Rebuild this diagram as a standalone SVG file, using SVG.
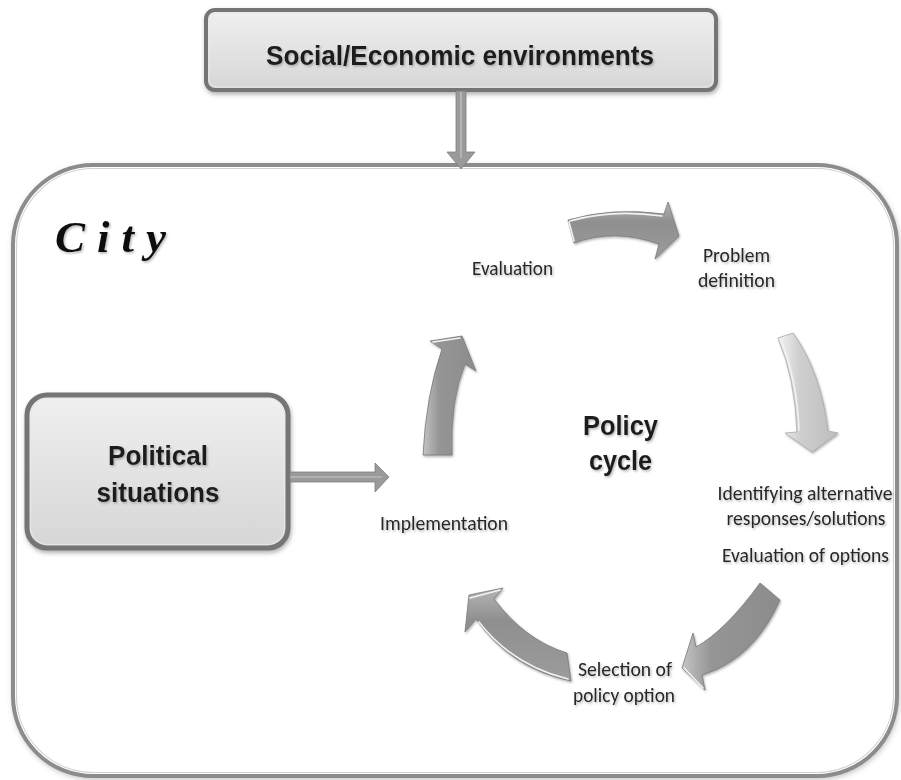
<svg xmlns="http://www.w3.org/2000/svg" width="901" height="780" viewBox="0 0 901 780">
  <defs>
    <linearGradient id="boxFill" x1="0" y1="0" x2="0" y2="1">
      <stop offset="0" stop-color="#f0f0f0"/>
      <stop offset="1" stop-color="#d6d6d6"/>
    </linearGradient>
    <linearGradient id="arrowDark" x1="0" y1="0" x2="0" y2="1">
      <stop offset="0" stop-color="#b4b4b4"/>
      <stop offset="0.35" stop-color="#8f8f8f"/>
      <stop offset="1" stop-color="#9c9c9c"/>
    </linearGradient>
    <linearGradient id="arrowDarkH" x1="0" y1="0" x2="1" y2="0">
      <stop offset="0" stop-color="#c4c4c4"/>
      <stop offset="0.3" stop-color="#959595"/>
      <stop offset="1" stop-color="#8c8c8c"/>
    </linearGradient>
    <linearGradient id="arrowLight" x1="0" y1="0" x2="1" y2="0">
      <stop offset="0" stop-color="#f4f4f4"/>
      <stop offset="0.35" stop-color="#cfcfcf"/>
      <stop offset="1" stop-color="#bdbdbd"/>
    </linearGradient>
    <filter id="boxShadow" x="-10%" y="-10%" width="120%" height="130%">
      <feDropShadow dx="1" dy="2.5" stdDeviation="2" flood-color="#555" flood-opacity="0.45"/>
    </filter>
    <filter id="frameShadow" x="-5%" y="-5%" width="110%" height="110%">
      <feDropShadow dx="1" dy="2" stdDeviation="2.5" flood-color="#666" flood-opacity="0.35"/>
    </filter>
    <filter id="arrowShadow" x="-20%" y="-20%" width="140%" height="140%">
      <feDropShadow dx="1" dy="1.5" stdDeviation="1.2" flood-color="#555" flood-opacity="0.45"/>
    </filter>
    <filter id="textShadow" x="-10%" y="-30%" width="120%" height="160%">
      <feDropShadow dx="1.2" dy="1.5" stdDeviation="0.9" flood-color="#777" flood-opacity="0.55"/>
    </filter>
  </defs>
  <style>
    .frame { fill: #ffffff; stroke: #8c8c8c; stroke-width: 4; }
    .frame-inner { fill: none; stroke: #d2d2d2; stroke-width: 1.2; }
    .box { fill: url(#boxFill); stroke: #747474; }
    .box-inner { fill: none; stroke: #e8e8e8; stroke-width: 1; }
    .title { font-family: "Liberation Sans", Arial, sans-serif; font-weight: bold; fill: #1c1c1c; }
    .label { font-family: Carlito, Lato, "Open Sans", sans-serif; font-size: 19.5px; fill: #262626; }
    .city { font-family: "Liberation Serif", "Times New Roman", serif; font-weight: bold; font-style: italic; font-size: 45px; letter-spacing: 12px; fill: #111; }
    .shaded { filter: url(#textShadow); }
    .conn { fill: #9a9a9a; stroke: #7e7e7e; stroke-width: 0.8; }
    .conn-line { fill: none; stroke: #c6c6c6; stroke-width: 1.2; }
    .cyc { stroke: #7a7a7a; stroke-width: 0.8; filter: url(#arrowShadow); }
    .cyc-light { stroke: #a9a9a9; stroke-width: 0.8; filter: url(#arrowShadow); }
    .hl { fill: none; stroke: #f2f2f2; stroke-width: 1.6; stroke-linecap: round; }
  </style>

  <rect width="901" height="780" fill="#ffffff"/>

  <!-- City frame -->
  <g id="city">
    <rect class="frame" x="13" y="165" width="884" height="611" rx="80" ry="80" filter="url(#frameShadow)"/>
    <rect class="frame-inner" x="16.5" y="168.5" width="877" height="604" rx="77" ry="77"/>
    <text class="city shaded" x="55" y="252">City</text>
  </g>

  <!-- Social/Economic environments -->
  <g id="social-economic">
    <rect class="box" x="206" y="10" width="510" height="80" rx="9" ry="9" stroke-width="4" filter="url(#boxShadow)"/>
    <rect class="box-inner" x="209" y="13" width="504" height="74" rx="7" ry="7"/>
    <text class="title shaded" x="460" y="65" font-size="27" text-anchor="middle" textLength="388" lengthAdjust="spacingAndGlyphs">Social/Economic environments</text>
  </g>

  <!-- Political situations -->
  <g id="political">
    <rect class="box" x="27" y="395" width="261" height="153" rx="20" ry="20" stroke-width="5" filter="url(#boxShadow)"/>
    <rect class="box-inner" x="30.5" y="398.5" width="254" height="146" rx="17" ry="17"/>
    <text class="title shaded" x="158" y="465" font-size="28" text-anchor="middle" textLength="100" lengthAdjust="spacingAndGlyphs">Political</text>
    <text class="title shaded" x="158" y="502" font-size="28" text-anchor="middle" textLength="123" lengthAdjust="spacingAndGlyphs">situations</text>
  </g>

  <!-- Centre title -->
  <g id="policy-cycle">
    <text class="title shaded" x="620.5" y="435" font-size="28" text-anchor="middle" textLength="75" lengthAdjust="spacingAndGlyphs">Policy</text>
    <text class="title shaded" x="620.5" y="470" font-size="28" text-anchor="middle" textLength="63" lengthAdjust="spacingAndGlyphs">cycle</text>
  </g>

  <!-- Stage labels -->
  <g id="evaluation">
    <text class="label shaded" x="512.5" y="275" text-anchor="middle" textLength="81" lengthAdjust="spacingAndGlyphs">Evaluation</text>
  </g>
  <g id="problem-definition">
    <text class="label shaded" x="736.5" y="262" text-anchor="middle" textLength="67" lengthAdjust="spacingAndGlyphs">Problem</text>
    <text class="label shaded" x="736.5" y="287" text-anchor="middle" textLength="77" lengthAdjust="spacingAndGlyphs">definition</text>
  </g>
  <g id="alternatives">
    <text class="label shaded" x="805" y="500" text-anchor="middle" textLength="175" lengthAdjust="spacingAndGlyphs">Identifying alternative</text>
    <text class="label shaded" x="806" y="525" text-anchor="middle" textLength="159" lengthAdjust="spacingAndGlyphs">responses/solutions</text>
    <text class="label shaded" x="805.5" y="562" text-anchor="middle" textLength="167" lengthAdjust="spacingAndGlyphs">Evaluation of options</text>
  </g>
  <g id="selection">
    <text class="label shaded" x="625" y="676" text-anchor="middle" textLength="94" lengthAdjust="spacingAndGlyphs">Selection of</text>
    <text class="label shaded" x="624" y="702" text-anchor="middle" textLength="102" lengthAdjust="spacingAndGlyphs">policy option</text>
  </g>
  <g id="implementation">
    <text class="label shaded" x="444" y="530" text-anchor="middle" textLength="128" lengthAdjust="spacingAndGlyphs">Implementation</text>
  </g>

  <!-- Connectors -->
  <g id="connectors">
    <!-- environment into the city -->
    <path class="conn" d="M456,91 L466,91 L466,152 L475,152 L461,169 L447,152 L456,152 Z"/>
    <path class="conn-line" d="M461,92 L461,158"/>
    <!-- political situations into implementation -->
    <path class="conn" d="M290,472 L375,472 L375,463 L389,477 L375,492 L375,482 L290,482 Z"/>
    <path class="conn-line" d="M290,477 L382,477"/>

    <!-- cycle: evaluation to problem definition -->
    <path class="cyc" fill="url(#arrowDark)" d="M568,220 Q612,207 664,214 L668,202 L679,236 L655,259 L659,244 Q614,228 574,243 Z"/>
    <path class="hl" d="M570,221 Q612,209 662,216"/>
    <path class="hl" d="M569,222 L574,241"/>
    <!-- cycle: problem definition to alternatives -->
    <path class="cyc-light" fill="url(#arrowLight)" d="M778,338 L793,333 Q821,372 828,431 L838,433 L812,452 L785,433 L797,432 Q795,378 778,338 Z"/>
    <path class="hl" d="M781,340 Q797,380 799,430" stroke="#ffffff" stroke-width="2.5"/>
    <!-- cycle: alternatives to selection -->
    <path class="cyc" fill="url(#arrowDarkH)" d="M760,583 L780,600 Q754,659 702,675 L705,690 L682,668 L693,633 L696,647 Q726,630 760,583 Z"/>
    <path class="hl" d="M684,668 L703,688"/>
    <!-- cycle: selection to implementation -->
    <path class="cyc" fill="url(#arrowDark)" d="M567,653 L571,681 Q510,668 476,619 L465,632 L469,595 L503,588 L494,599 Q525,640 567,653 Z"/>
    <path class="hl" d="M568,679 Q512,665 479,622"/>
    <path class="hl" d="M470,598 L500,590"/>
    <!-- cycle: implementation to evaluation -->
    <path class="cyc" fill="url(#arrowDarkH)" d="M423,455 L452,455 Q450,400 465,364 L476,371 L462,336 L430,341 L442,349 Q426,395 423,455 Z"/>
    <path class="hl" d="M433,342 L460,338"/>
  </g>
</svg>
